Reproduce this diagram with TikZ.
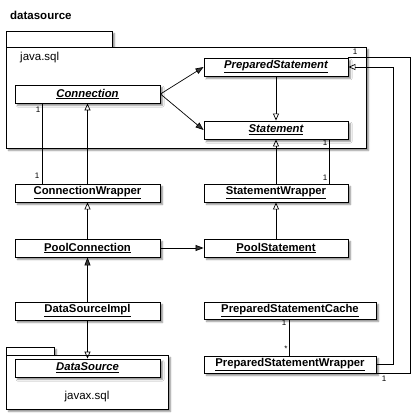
\documentclass[tikz,border=0pt]{standalone}
\usepackage{fontspec}
\setmainfont{Liberation Sans}
\usetikzlibrary{arrows.meta,shadows.blur}
\begin{document}
\begin{tikzpicture}[x=1pt,y=-1pt,
  cls/.style={draw,fill=white,line width=0.9pt,minimum height=18pt,inner sep=0pt,
    font=\fontsize{11.3}{13}\selectfont\bfseries,
    blur shadow={shadow xshift=2.5pt,shadow yshift=-2.5pt,shadow blur steps=6,shadow blur radius=1.5pt,shadow opacity=45}},
  pkg/.style={draw,fill=white,line width=0.9pt,
    blur shadow={shadow xshift=2.5pt,shadow yshift=-2.5pt,shadow blur steps=6,shadow blur radius=1.5pt,shadow opacity=45}},
  conn/.style={line width=0.7pt},
  gen/.style={conn,-{Triangle[open,length=7pt,width=6pt]}},
  nav/.style={conn,-{Triangle[length=8pt,width=6pt]}},
  mult/.style={font=\fontsize{8}{9}\selectfont,inner sep=0pt}]
\useasboundingbox (0,0) rectangle (413,414);
\node[anchor=west,font=\fontsize{11.5}{13}\selectfont\bfseries,inner sep=0pt] (title) at (10,15) {datasource};
% java.sql package
\path[pkg] (6,31) rectangle (112,47);
\path[pkg] (6,47) rectangle (366,148);
\node[anchor=west,font=\fontsize{11.5}{13}\selectfont,inner sep=0pt] (jsql) at (20,58) {java.sql};
% javax.sql package
\path[pkg] (6,347) rectangle (54,355);
\path[pkg] (6,355) rectangle (168,409);
\node[font=\fontsize{11.5}{13}\selectfont,inner sep=0pt] (jxsql) at (87,397) {javax.sql};
% classes
\node[cls,minimum width=145pt] (con) at (87.5,94) {\itshape\underline{Connection}};
\node[cls,minimum width=144pt] (ps) at (276,67) {\itshape\underline{PreparedStatement}};
\node[cls,minimum width=144pt] (st) at (276,130) {\itshape\underline{Statement}};
\node[cls,minimum width=144pt] (sw) at (276,193) {\underline{StatementWrapper}};
\node[cls,minimum width=144pt] (pst) at (276,248) {\underline{PoolStatement}};
\node[cls,minimum width=145pt] (cw) at (87.5,193) {\underline{ConnectionWrapper}};
\node[cls,minimum width=145pt] (pc) at (87.5,248) {\underline{PoolConnection}};
\node[cls,minimum width=145pt] (dsi) at (87.5,311) {\underline{DataSourceImpl}};
\node[cls,minimum width=145pt] (ds) at (87.5,368) {\itshape\underline{DataSource}};
\node[cls,minimum width=172pt,minimum height=17pt] (psc) at (290,310.5) {\underline{PreparedStatementCache}};
\node[cls,minimum width=172pt,minimum height=17pt] (psw) at (290,364.5) {\underline{PreparedStatementWrapper}};
% helper coordinates
\coordinate (xa) at (42,0);
\coordinate (xs) at (329,0);
\coordinate (xc) at (289,0);
% connectors
\draw[nav] (con.east) -- (ps.west);
\draw[nav] (con.east) -- (st.west);
\draw[gen] (ps) -- (st);
\draw[gen] (sw) -- (st);
\draw[conn] (sw.north -| xs) -- (st.south -| xs);
\draw[gen] (pst) -- (sw);
\draw[nav] (pc) -- (pst);
\draw[gen] (cw) -- (con);
\draw[conn] (cw.north -| xa) -- (con.south -| xa);
\draw[gen] (pc) -- (cw);
\draw[nav] (dsi) -- (pc);
\draw[gen] (dsi) -- (ds);
\draw[conn] (psc.south -| xc) -- (psw.north -| xc);
\draw[gen] (psw.east) -- ++(17,0) |- (ps.east);
\draw[conn] (psw.south east) -- ++(34,0) |- (ps.north east);
% multiplicities
\node[mult] (m1) at (38,110) {1};
\node[mult] (m2) at (37,176) {1};
\node[mult] (m3) at (325,143) {1};
\node[mult] (m4) at (325,178) {1};
\node[mult] (m5) at (284,323) {1};
\node[mult] (m6) at (286,349) {*};
\node[mult] (m7) at (355,52) {1};
\node[mult] (m8) at (384,379) {1};
\end{tikzpicture}
\end{document}
